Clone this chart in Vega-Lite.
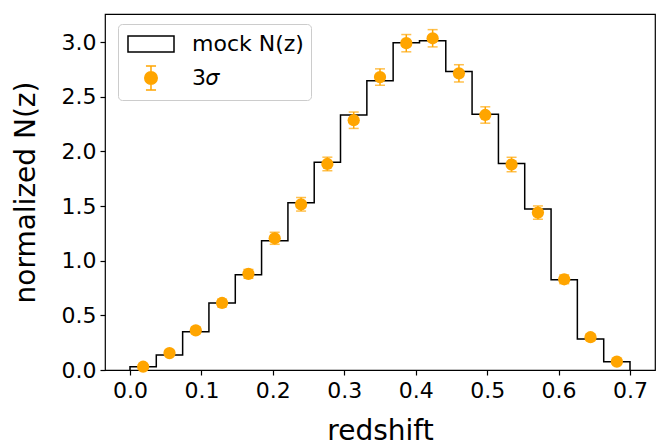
{
  "$schema": "https://vega.github.io/schema/vega-lite/v6.json",
  "width": 550,
  "height": 356,
  "autosize": {"type": "none"},
  "padding": {"left": 105, "top": 14, "right": 10, "bottom": 75},
  "background": "white",
  "config": {
    "font": "DejaVu Sans",
    "view": {"stroke": "black", "strokeWidth": 1.2},
    "axis": {
      "grid": false,
      "domain": false,
      "ticks": true,
      "tickColor": "black",
      "tickSize": 5,
      "tickWidth": 1.2,
      "labelFont": "DejaVu Sans",
      "labelFontSize": 22,
      "labelColor": "black",
      "titleFont": "DejaVu Sans",
      "titleFontSize": 28,
      "titleFontWeight": "normal",
      "titleColor": "black"
    },
    "legend": {
      "title": null,
      "orient": "none",
      "legendX": 13,
      "legendY": 10,
      "labelFont": "DejaVu Sans",
      "labelFontSize": 22,
      "labelColor": "black",
      "symbolSize": 576,
      "padding": 7,
      "labelOffset": 41,
      "rowPadding": 7,
      "strokeColor": "#cccccc",
      "fillColor": "white",
      "cornerRadius": 4,
      "symbolOpacity": 1,
      "symbolStrokeWidth": 1.5
    }
  },
  "datasets": {
    "hist": [
      {"i": 0, "edge": 0, "h": 0},
      {"i": 1, "edge": 0, "h": 0.03},
      {"i": 2, "edge": 0.0368, "h": 0.137},
      {"i": 3, "edge": 0.0737, "h": 0.35},
      {"i": 4, "edge": 0.1105, "h": 0.613},
      {"i": 5, "edge": 0.1474, "h": 0.872},
      {"i": 6, "edge": 0.1842, "h": 1.183},
      {"i": 7, "edge": 0.2211, "h": 1.53},
      {"i": 8, "edge": 0.2579, "h": 1.9},
      {"i": 9, "edge": 0.2947, "h": 2.333},
      {"i": 10, "edge": 0.3316, "h": 2.647},
      {"i": 11, "edge": 0.3684, "h": 2.995},
      {"i": 12, "edge": 0.4053, "h": 3.013},
      {"i": 13, "edge": 0.4421, "h": 2.73},
      {"i": 14, "edge": 0.4789, "h": 2.34},
      {"i": 15, "edge": 0.5158, "h": 1.89},
      {"i": 16, "edge": 0.5526, "h": 1.473},
      {"i": 17, "edge": 0.5895, "h": 0.826},
      {"i": 18, "edge": 0.6263, "h": 0.284},
      {"i": 19, "edge": 0.6632, "h": 0.076},
      {"i": 20, "edge": 0.7, "h": 0}
    ],
    "pts": [
      {"z": 0.0184, "n": 0.03, "err": 0.02, "series": "3𝜎"},
      {"z": 0.0553, "n": 0.155, "err": 0.025, "series": "3𝜎"},
      {"z": 0.0921, "n": 0.363, "err": 0.03, "series": "3𝜎"},
      {"z": 0.1289, "n": 0.613, "err": 0.035, "series": "3𝜎"},
      {"z": 0.1658, "n": 0.88, "err": 0.04, "series": "3𝜎"},
      {"z": 0.2026, "n": 1.205, "err": 0.055, "series": "3𝜎"},
      {"z": 0.2395, "n": 1.516, "err": 0.062, "series": "3𝜎"},
      {"z": 0.2763, "n": 1.885, "err": 0.062, "series": "3𝜎"},
      {"z": 0.3132, "n": 2.285, "err": 0.075, "series": "3𝜎"},
      {"z": 0.35, "n": 2.68, "err": 0.075, "series": "3𝜎"},
      {"z": 0.3868, "n": 2.99, "err": 0.079, "series": "3𝜎"},
      {"z": 0.4237, "n": 3.035, "err": 0.079, "series": "3𝜎"},
      {"z": 0.4605, "n": 2.714, "err": 0.079, "series": "3𝜎"},
      {"z": 0.4974, "n": 2.333, "err": 0.075, "series": "3𝜎"},
      {"z": 0.5342, "n": 1.88, "err": 0.066, "series": "3𝜎"},
      {"z": 0.5711, "n": 1.44, "err": 0.061, "series": "3𝜎"},
      {"z": 0.6079, "n": 0.83, "err": 0.04, "series": "3𝜎"},
      {"z": 0.6447, "n": 0.3, "err": 0.03, "series": "3𝜎"},
      {"z": 0.6816, "n": 0.076, "err": 0.02, "series": "3𝜎"}
    ]
  },
  "layer": [
    {
      "data": {"name": "hist"},
      "mark": {"type": "line", "interpolate": "step-after", "color": "black", "strokeWidth": 1.5},
      "encoding": {
        "x": {
          "field": "edge", "type": "quantitative", "title": "redshift",
          "scale": {"domain": [-0.035, 0.735], "nice": false, "zero": false},
          "axis": {"values": [0, 0.1, 0.2, 0.3, 0.4, 0.5, 0.6, 0.7], "format": ".1f", "labelPadding": 5, "titlePadding": 16}
        },
        "y": {
          "field": "h", "type": "quantitative", "title": "normalized N(z)",
          "scale": {"domain": [0, 3.257], "nice": false, "zero": false},
          "axis": {"values": [0, 0.5, 1, 1.5, 2, 2.5, 3], "format": ".1f", "labelPadding": 4, "titlePadding": 21}
        },
        "order": {"field": "i", "type": "quantitative"}
      }
    },
    {
      "data": {"name": "pts"},
      "mark": {"type": "errorbar", "color": "orange", "thickness": 1.5, "ticks": {"size": 10, "thickness": 1.5, "color": "orange"}},
      "encoding": {
        "x": {"field": "z", "type": "quantitative", "title": "redshift"},
        "y": {"field": "n", "type": "quantitative", "title": "normalized N(z)"},
        "yError": {"field": "err"}
      }
    },
    {
      "data": {"name": "pts"},
      "mark": {"type": "point", "filled": true, "opacity": 1, "size": 150, "color": "orange"},
      "encoding": {
        "x": {"field": "z", "type": "quantitative", "title": "redshift"},
        "y": {"field": "n", "type": "quantitative", "title": "normalized N(z)"}
      }
    },
    {
      "data": {"name": "pts"},
      "transform": [{"filter": "false"}],
      "mark": {"type": "point", "filled": false, "strokeWidth": 1.5},
      "encoding": {
        "shape": {
          "field": "series", "type": "nominal",
          "scale": {"domain": ["mock N(z)", "3𝜎"], "range": ["M-0.834,-0.67L3,-0.67L3,0.67L-0.834,0.67Z", "M0.563,0A0.52,0.52 0 1,0 1.603,0A0.52,0.52 0 1,0 0.563,0Z M1.083,-1L1.083,1 M0.663,-1L1.503,-1 M0.663,1L1.503,1"]}
        },
        "fill": {
          "field": "series", "type": "nominal",
          "scale": {"domain": ["mock N(z)", "3𝜎"], "range": ["white", "orange"]}
        },
        "stroke": {
          "field": "series", "type": "nominal",
          "scale": {"domain": ["mock N(z)", "3𝜎"], "range": ["black", "orange"]}
        }
      }
    }
  ]
}
